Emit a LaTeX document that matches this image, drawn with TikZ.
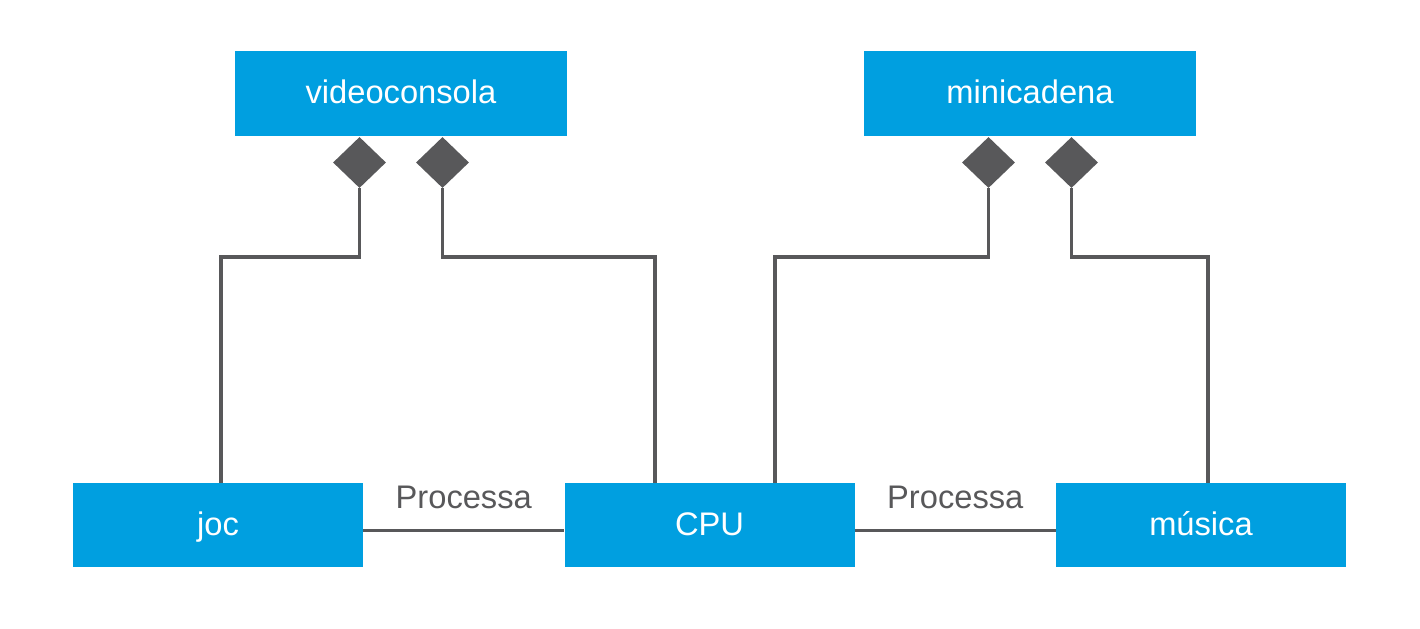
\documentclass[tikz,border=0pt]{standalone}
\usepackage{fontspec}
\setmainfont{Liberation Sans}
\usetikzlibrary{shapes.geometric}
\definecolor{boxblue}{HTML}{009FE0}
\definecolor{linegray}{HTML}{58585A}
\begin{document}
\begin{tikzpicture}[x=0.75pt,y=-0.75pt,
  txt/.style={font=\fontsize{24.5}{28}\selectfont},
  topbox/.style={txt,fill=boxblue,draw=none,inner sep=0pt,minimum width=249pt,minimum height=63.75pt,text=white,text height=15.5pt,text depth=0pt},
  botbox/.style={txt,fill=boxblue,draw=none,inner sep=0pt,minimum width=217.5pt,minimum height=63pt,text=white,text height=15pt,text depth=0pt},
  agg/.style={diamond,fill=linegray,draw=none,inner sep=0pt,minimum width=39.75pt,minimum height=38.25pt},
  conn/.style={draw=linegray,line width=2.4pt},
  lbl/.style={txt,text=linegray,inner sep=0pt,anchor=base,yshift=16.5pt}]
\useasboundingbox (0,0) rectangle (1420,628);
\node[topbox] (video) at (401,93.5) {videoconsola};
\node[topbox] (mini) at (1030,93.5) {minicadena};
\node[botbox] (joc) at (218,525) {joc};
\node[botbox] (cpu) at (709.5,525) {CPU};
\node[botbox] (musica) at (1201,525) {música};
\node[agg] (d1) at (359.5,162.5) {};
\node[agg] (d2) at (442.5,162.5) {};
\node[agg] (d3) at (988.5,162.5) {};
\node[agg] (d4) at (1071.5,162.5) {};
\coordinate (y) at (0,257);
\draw[conn] (d1.south) -- (d1.south |- y) -| ([xshift=2.25pt]joc.north);
\draw[conn] (d2.south) -- (d2.south |- y) -| ([xshift=-40.9pt]cpu.north);
\draw[conn] (d3.south) -- (d3.south |- y) -| ([xshift=49.1pt]cpu.north);
\draw[conn] (d4.south) -- (d4.south |- y) -| ([xshift=5.25pt]musica.north);
\draw[conn] ([yshift=-4.3pt]joc.east) -- ([yshift=-4.3pt]cpu.west) node[lbl,midway] {Processa};
\draw[conn] ([yshift=-4.3pt]cpu.east) -- ([yshift=-4.3pt]musica.west) node[lbl,midway] {Processa};
\end{tikzpicture}
\end{document}
